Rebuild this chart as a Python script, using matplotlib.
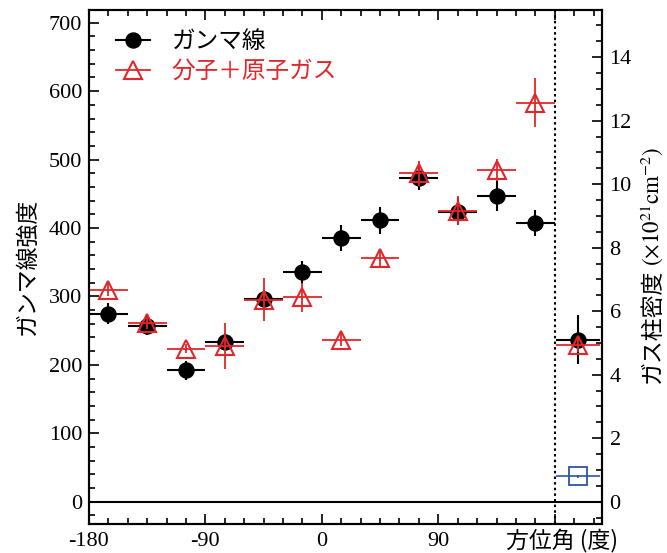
import numpy as np
import matplotlib.pyplot as plt
from matplotlib.lines import Line2D
from matplotlib.ticker import MultipleLocator

plt.rcParams['font.family'] = ['Liberation Serif', 'Noto Sans CJK JP']
plt.rcParams['mathtext.fontset'] = 'stix'

jp = 'Noto Sans CJK JP'
red = '#e3262b'
blue = '#2d55a5'

# azimuth bins (deg), each +-15 deg wide
azimuth = [-165, -135, -105, -75, -45, -15, 15, 45, 75, 105, 135, 165]
bin_half = 15
gamma = [275, 257, 192, 234, 296, 335, 385, 411, 473, 424, 447, 408]
gamma_err = [16, 14, 14, 12, 14, 17, 19, 20, 18, 20, 22, 19]
# gas column density, 1e21 cm^-2
gas = [6.68, 5.63, 4.82, 4.90, 6.36, 6.44, 5.10, 7.67, 10.34, 9.17, 10.45, 12.57]
gas_err = [0.2, 0.2, 0.15, 0.73, 0.68, 0.45, 0.2, 0.29, 0.39, 0.45, 0.34, 0.77]

# whole-ring point right of the dotted line
total_x = 198
total_half = 17
total_gamma = 237
total_gamma_err = 36
total_gas = 4.93
total_gas_err = 0.2
other_gas = 0.8
other_gas_err = 0.04

xticks = [-180, -90, 0, 90, 180]
xticklabels = ['-180', '-90', '0', '90', '']

ylim_left = (-32.6, 718.6)
scale = 46.4  # left units per right unit

fig = plt.figure(figsize=(6.67, 5.53), dpi=100)
ax = fig.add_axes([0.1334, 0.0524, 0.7691, 0.9295])
ax2 = ax.twinx()

ax.axhline(0, color='k', lw=1.5)
ax.axvline(180, color='k', lw=1.5, ls=(0, (1.2, 1.5)))

ax.errorbar(azimuth, gamma, xerr=bin_half, yerr=gamma_err, fmt='o', color='k',
            ms=10.8, elinewidth=1.5, capsize=0)
ax.errorbar([total_x], [total_gamma], xerr=total_half, yerr=total_gamma_err, fmt='o',
            color='k', ms=10.8, elinewidth=1.5, capsize=0)

ax2.errorbar(azimuth, gas, xerr=bin_half, yerr=gas_err, fmt='^', mfc='none', mec=red,
             ecolor=red, ms=13.5, mew=1.5, elinewidth=1.3, capsize=0)
ax2.errorbar([total_x], [total_gas], xerr=total_half, yerr=total_gas_err, fmt='^', mfc='none',
             mec=red, ecolor=red, ms=13.5, mew=1.5, elinewidth=1.3, capsize=0)
ax2.errorbar([total_x], [other_gas], xerr=total_half, yerr=other_gas_err, fmt='s', mfc='none',
             mec=blue, ecolor=blue, ms=12.5, mew=1.3, elinewidth=1.2, capsize=0)

ax.set_xlim(-180, 216.5)
ax.set_ylim(*ylim_left)
ax2.set_ylim(ylim_left[0] / scale, ylim_left[1] / scale)

ax.set_xticks(xticks)
ax.set_xticklabels(xticklabels)
ax.xaxis.set_minor_locator(MultipleLocator(15))
ax.yaxis.set_major_locator(MultipleLocator(100))
ax.yaxis.set_minor_locator(MultipleLocator(20))
ax2.set_yticks(range(0, 15, 2))
ax2.yaxis.set_minor_locator(MultipleLocator(0.5))

ax.tick_params(which='both', direction='in', top=True, right=False, width=1.2, labelsize=16)
ax.tick_params(which='major', length=7)
ax.tick_params(which='minor', length=4.3)
ax.tick_params(axis='x', pad=6)
ax.tick_params(axis='y', pad=5)
ax2.tick_params(which='both', direction='in', width=1.2, labelsize=16, pad=5.5)
ax2.tick_params(which='major', length=7)
ax2.tick_params(which='minor', length=4.3)
for a in (ax, ax2):
    for s in a.spines.values():
        s.set_linewidth(1.5)

fig.text(27 / 667, 1 - 266 / 553, 'ガンマ線強度', rotation=90, ha='center', va='center',
         family=jp, fontsize=16.5)
fig.text(652 / 667, 1 - 383 / 553, 'ガス柱密度', rotation=90, ha='center', va='bottom',
         family=jp, fontsize=16.5)
fig.text(652 / 667, 1 - 266 / 553, r'$(\times 10^{21}\mathrm{cm}^{-2})$', rotation=90,
         ha='center', va='bottom', fontsize=16.5)
fig.text(562 / 667, 1 - 541 / 553, '方位角 (度)', ha='center', va='center',
         family=jp, fontsize=16.5)

h1 = Line2D([], [], color='k', marker='o', ms=10.8, lw=1.5)
h2 = Line2D([], [], color=red, marker='^', mfc='none', mec=red, ms=13.5, mew=1.5, lw=1.3)
leg = ax2.legend([h1, h2], ['ガンマ線', '分子＋原子ガス'], loc='upper left',
                 bbox_to_anchor=(0.0526, 0.961), frameon=False, borderpad=0, borderaxespad=0,
                 handlelength=1.45, handletextpad=0.9, labelspacing=0.3,
                 prop={'family': jp, 'size': 17})
leg.get_texts()[1].set_color(red)

fig.savefig('out.png', dpi=100)
